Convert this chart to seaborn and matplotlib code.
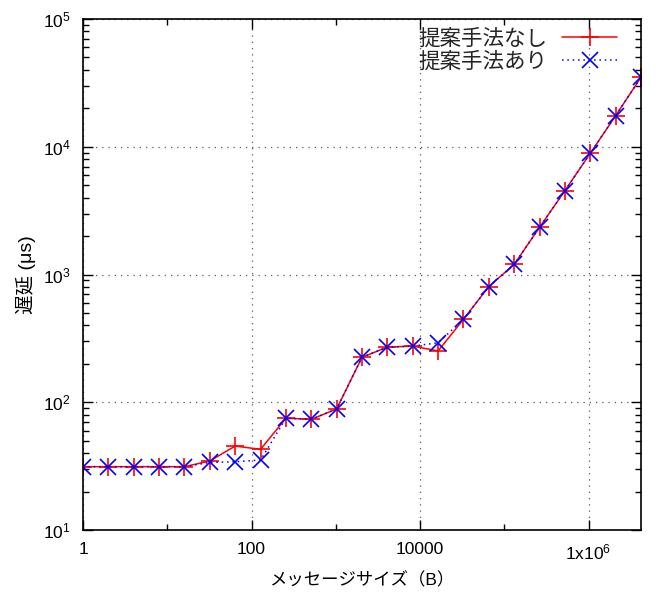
import matplotlib
matplotlib.use("Agg")
import matplotlib.pyplot as plt
import matplotlib.ticker as mticker
import seaborn as sns
import pandas as pd

# ---- data ----
msg_sizes = [1, 2, 4, 8, 16, 32, 64, 128, 256, 512, 1024, 2048, 4096, 8192,
             16384, 32768, 65536, 131072, 262144, 524288, 1048576, 2097152, 4194304]
latency_without = [31.3, 31.3, 31.3, 31.3, 31.3, 34.7, 45.4, 42.8, 75, 73.5, 88.6,
                   225, 270, 275, 252, 446, 805, 1200, 2340, 4530, 8890, 17500, 35000]
latency_with = [31.3, 31.3, 31.3, 31.3, 31.3, 33.8, 34.2, 35.3, 75, 73.5, 88.6,
                225, 270, 275, 292, 446, 805, 1200, 2340, 4530, 8890, 17500, 35000]
series_names = ["提案手法なし", "提案手法あり"]
xtick_vals = [1, 100, 10000, 1000000]
xtick_labels = ["1", "100", "10000", r"$\mathdefault{1x10^{6}}$"]
x_label = "メッセージサイズ（B）"
y_label = "遅延 (μs)"

sns.set_style("ticks")
plt.rcParams["font.family"] = ["Liberation Sans", "Noto Sans CJK JP", "DejaVu Sans"]
plt.rcParams["mathtext.fontset"] = "custom"
plt.rcParams["mathtext.rm"] = "Liberation Sans"
plt.rcParams["mathtext.it"] = "Liberation Sans:italic"
plt.rcParams["mathtext.default"] = "regular"

df = pd.DataFrame({
    "size": msg_sizes * 2,
    "latency": latency_without + latency_with,
    "series": [series_names[0]] * len(msg_sizes) + [series_names[1]] * len(msg_sizes),
})

fig = plt.figure(figsize=(6.56, 5.97), dpi=100)
ax = fig.add_axes([83 / 656, 1 - 530 / 597, (641 - 83) / 656, (530 - 19) / 597])

sns.lineplot(data=df[df.series == series_names[0]], x="size", y="latency", ax=ax,
             color="#ff0000", linestyle="-", marker="+", markersize=13,
             markeredgewidth=1.2, markeredgecolor="#ff0000", linewidth=1.1,
             label=series_names[0])
sns.lineplot(data=df[df.series == series_names[1]], x="size", y="latency", ax=ax,
             color="#0000ff", linestyle=(0, (1, 2.5)), marker="x", markersize=12,
             markeredgewidth=1.2, markeredgecolor="#0000ff", linewidth=1.1,
             label=series_names[1])

ax.set_xscale("log")
ax.set_yscale("log")
ax.set_xlim(1, 4194304)
ax.set_ylim(10, 100000)

ax.set_xticks(xtick_vals)
ax.set_xticklabels(xtick_labels)
ax.xaxis.set_minor_locator(mticker.FixedLocator([10, 1000, 100000]))
ax.xaxis.set_minor_formatter(mticker.NullFormatter())
ax.yaxis.set_major_locator(mticker.LogLocator(base=10, numticks=10))
ax.yaxis.set_major_formatter(mticker.LogFormatterMathtext())
ax.yaxis.set_minor_locator(mticker.LogLocator(base=10, subs=range(2, 10), numticks=20))
ax.yaxis.set_minor_formatter(mticker.NullFormatter())

ax.tick_params(which="both", direction="in", top=True, right=True, color="black",
               width=1.0, labelsize=12.5, labelcolor="black")
ax.tick_params(which="major", length=7, pad=9)
ax.tick_params(which="minor", length=4)

ax.grid(True, which="major", color="0.35", linestyle=(0, (1, 4)), linewidth=0.9)
for s in ax.spines.values():
    s.set_color("black")
    s.set_linewidth(1.2)

ax.set_xlabel(x_label, fontsize=12.5, labelpad=7, color="black")
ax.set_ylabel(y_label, fontsize=14, labelpad=5, color="black")

leg = ax.legend(loc="upper right", bbox_to_anchor=(0.957, 0.982), frameon=False,
                markerfirst=False, fontsize=15.5, handlelength=2.55, labelspacing=0.1,
                handletextpad=0.7, borderaxespad=0.0, borderpad=0.0)

fig.savefig("out.png", dpi=100)
